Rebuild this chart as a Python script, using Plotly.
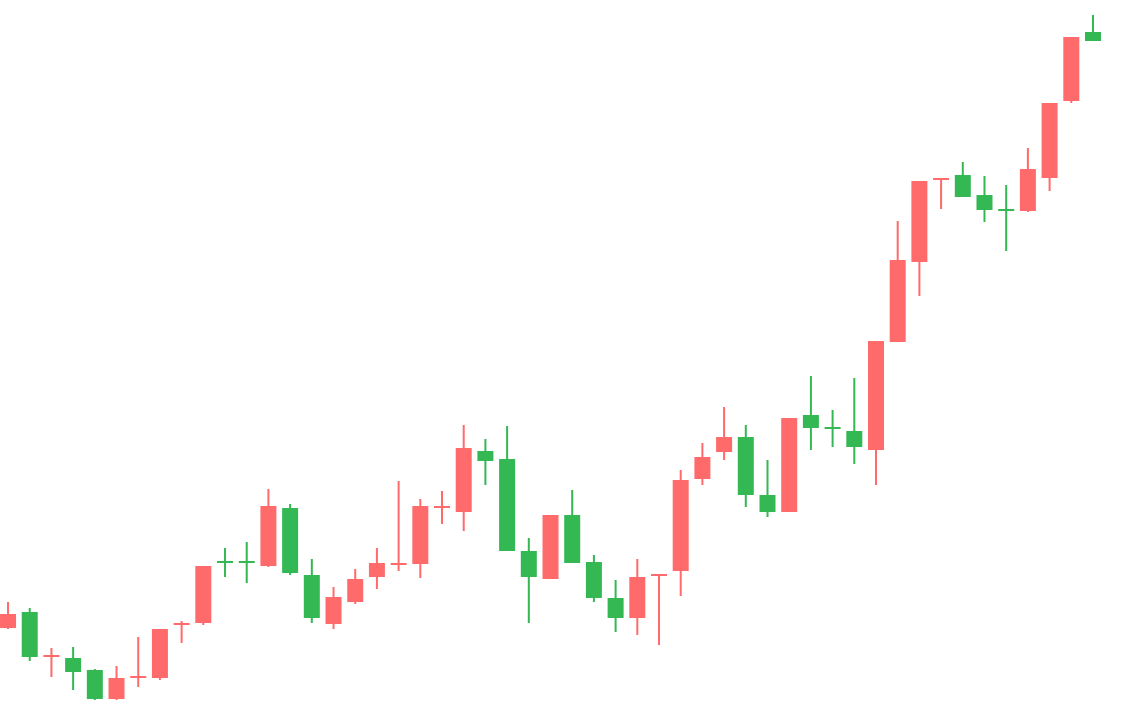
import plotly.graph_objects as go

# candle index (one per session)
days = list(range(51))

opens = [37.3, 38.7, 34.4, 34.1, 32.9, 30.2, 32.3, 32.3, 37.6, 37.8,
         43.8, 43.8, 43.5, 49.1, 42.4, 37.7, 39.9, 42.4, 43.6, 43.7,
         49.3, 48.9, 54.8, 54.0, 44.8, 42.2, 48.4, 43.7, 40.1, 38.3,
         42.5, 43.0, 52.2, 54.9, 56.2, 50.4, 48.9, 58.4, 57.2, 56.8,
         55.1, 65.9, 73.9, 82.1, 82.4, 80.4, 79.0, 79.0, 82.3, 90.0,
         96.7]
highs = [39.8, 39.2, 35.2, 35.3, 33.1, 33.4, 36.3, 37.0, 37.9, 43.3,
         45.2, 45.8, 51.1, 49.6, 44.1, 41.3, 43.1, 45.2, 51.9, 50.1,
         50.9, 57.5, 56.1, 57.4, 46.2, 48.5, 51.0, 44.5, 42.0, 44.1,
         42.51, 53.0, 55.7, 59.3, 57.5, 54.0, 58.1, 62.4, 59.0, 62.2,
         65.8, 77.9, 81.8, 82.11, 83.8, 82.4, 81.5, 85.2, 89.6, 96.2,
         98.5]
lows = [37.1, 33.9, 32.3, 31.0, 30.0, 30.0, 31.3, 32.0, 35.7, 37.5,
        42.3, 41.7, 43.3, 42.5, 37.7, 37.1, 39.6, 41.1, 42.9, 42.2,
        47.6, 46.9, 51.5, 45.0, 37.7, 42.2, 43.8, 39.8, 36.8, 36.5,
        35.5, 40.4, 51.5, 54.0, 49.3, 48.3, 48.9, 55.0, 55.3, 53.6,
        51.5, 65.9, 70.4, 79.1, 80.3, 77.8, 74.9, 78.8, 80.9, 89.7,
        96.0]
closes = [38.5, 34.4, 34.41, 32.9, 30.2, 32.1, 32.31, 37.0, 37.61, 43.3,
          43.79, 43.79, 49.3, 42.8, 38.3, 40.2, 42.0, 43.6, 43.61, 49.3,
          49.31, 55.1, 54.0, 45.0, 42.4, 48.4, 43.8, 40.3, 38.3, 42.2,
          42.51, 51.9, 54.2, 56.2, 50.6, 48.9, 58.1, 57.3, 57.19, 55.4,
          65.8, 73.9, 81.8, 82.11, 80.4, 79.1, 78.99, 83.0, 89.6, 96.2,
          96.0]

up_color = '#FF6B6B'    # red = rising
down_color = '#33B854'  # green = falling

fig = go.Figure(data=[
    go.Candlestick(
        x=days,
        open=opens,
        high=highs,
        low=lows,
        close=closes,
        increasing=dict(line=dict(color=up_color, width=2), fillcolor=up_color),
        decreasing=dict(line=dict(color=down_color, width=2), fillcolor=down_color),
        showlegend=False,
    )
])

fig.update_layout(
    width=1134,
    height=721,
    margin=dict(l=0, r=0, t=0, b=0),
    paper_bgcolor='white',
    plot_bgcolor='white',
    boxgap=0.355,
    boxgroupgap=0,
    xaxis=dict(visible=False, range=[-0.37, 51.89], rangeslider=dict(visible=False)),
    yaxis=dict(visible=False, range=[27.9, 100]),
)

# drop the page's default body margin so the chart fills the window
fig.write_html(
    "out.html",
    config={'displayModeBar': False},
    post_script="document.body.style.margin='0';",
)
